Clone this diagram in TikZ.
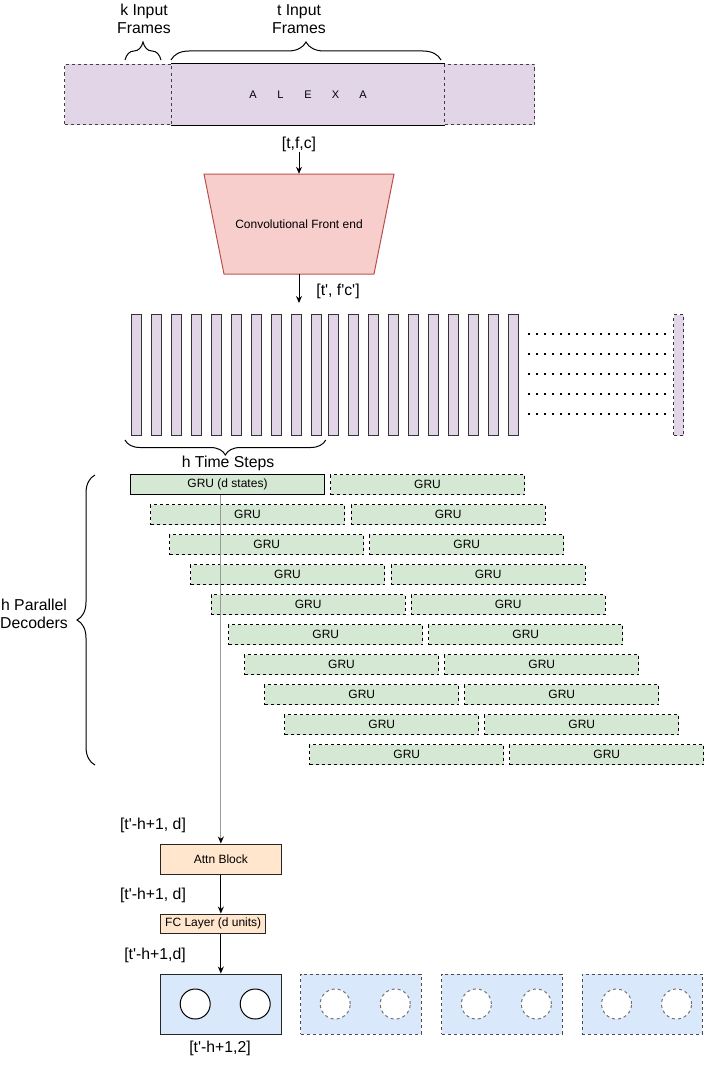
\documentclass[tikz,border=0pt]{standalone}
\usepackage{fontspec}
\setmainfont{Liberation Sans}
\usetikzlibrary{decorations.pathreplacing,arrows.meta}
\definecolor{purp}{HTML}{E1D5E7}
\definecolor{grn}{HTML}{D5E8D4}
\definecolor{pinkf}{HTML}{F8CECC}
\definecolor{pinkd}{HTML}{B85450}
\definecolor{orng}{HTML}{FFE6CC}
\definecolor{blu}{HTML}{DAE8FC}
\newcommand{\apos}{\textquotesingle}
\begin{document}
\begin{tikzpicture}[x=1pt,y=-1pt,
  box/.style={draw=black, line width=1pt, inner sep=0pt, anchor=north west},
  cbox/.style={draw=black!85, line width=1pt, inner sep=0pt, anchor=center},
  dsh/.style={dash pattern=on 3pt off 3pt},
  lbl/.style={font=\fontsize{15.8}{18.3}\selectfont, align=center, inner sep=0pt},
  small/.style={font=\fontsize{12}{14}\selectfont},
  bar/.style={box, draw=black!80, fill=purp, minimum width=10pt, minimum height=121pt},
  grubox/.style={box, fill=grn, small, minimum width=194pt, minimum height=20pt},
  arr/.style={-{Stealth[length=7pt,width=6pt]}, line width=1pt},
  brc/.style={decorate, decoration={brace, amplitude=#1}, line width=1pt},
  dotline/.style={line width=1.8pt, dash pattern=on 1.8pt off 6.2pt},
  circ/.style={circle, draw=black, fill=white, line width=1pt, minimum size=30pt, inner sep=0pt},
  ghost/.style={cbox, draw=black!70, dsh, fill=blu, minimum width=120.3pt, minimum height=60pt},
  gcirc/.style={circ, draw=black!55, dsh}
]
\useasboundingbox (0,0) rectangle (704,1065);

% ---- input frames
\node[box, draw=none, fill=purp, minimum width=273pt, minimum height=60pt] (tin) at (171,64)
  {\fontsize{11}{13}\selectfont\makebox[27.5pt]{A}\makebox[27.5pt]{L}\makebox[27.5pt]{E}\makebox[27.5pt]{X}\makebox[27.5pt]{A}};
\draw[line width=1pt] (tin.north west) -- (tin.north east) (tin.south west) -- (tin.south east);
\node[box, draw=black!75, dsh, fill=purp, minimum width=107pt, minimum height=60pt] (kin) at (64,64) {};
\node[box, draw=black!75, dsh, fill=purp, minimum width=90pt, minimum height=60pt] (rin) at (444,64) {};

\node[lbl] (klab) at (144,19) {k Input\\Frames};
\node[lbl] (tlab) at (299,19) {t Input\\Frames};
\draw[brc=18pt] (125,60) -- (161,60);
\draw[brc=18pt] (171,60) -- (441,60);

% ---- conv front end
\node[lbl] (tfc) at (299,144) {[t,f,c]};
\filldraw[fill=pinkf, draw=pinkd, line width=1pt] (204,174) -- (394,174) -- (374,274) -- (224,274) -- cycle;
\node[small, minimum width=190pt, minimum height=100pt, inner sep=0pt] (conv) at (299,224) {Convolutional Front end};
\draw[arr] (tfc.south) -- (conv.north);
\coordinate (cout) at (299,303);
\draw[arr] (conv.south) -- (cout);
\node[lbl] (tfc2) at (338,291) {[t\apos, f\apos c\apos]};

% ---- time step bars
\foreach \i in {0,...,9} \node[bar] (b\i) at ({130.7+20*\i},314) {};
\foreach \i in {10,...,19} \node[bar] (b\i) at ({328.3+20*(\i-10)},314) {};
\foreach \yy in {334.3,354.3,374.3,394.3,414.3} \draw[dotline] (528,\yy) -- (668,\yy);
\node[bar, dsh] (bend) at (673.3,314) {};

\draw[brc=15pt, decoration={mirror}] (125,440) -- (325.7,440);
\node[lbl] (hts) at (228,463) {h Time Steps};

% ---- GRU decoders
\node[grubox] (gl1) at (130,474) {GRU (d states)};
\node[grubox, dsh] (gr1) at (330,474) {GRU};
\foreach \r/\xl/\xr in {2/150/350.7, 3/169.3/369.3, 4/190/390.7, 5/210.7/410.7, 6/228.3/428.3, 7/244/444.3, 8/264.3/464.3, 9/284.3/484.3, 10/309.3/509.3}
{
  \node[grubox, dsh] (gl\r) at (\xl,{474+30*(\r-1)}) {GRU};
  \node[grubox, dsh] (gr\r) at (\xr,{474+30*(\r-1)}) {GRU};
}
\draw[brc=18pt] (95,765) -- (95,475);
\node[lbl] (hpd) at (34,614) {h Parallel\\Decoders};

% ---- attention / fc / output
\node[cbox, small, fill=orng, minimum width=120.3pt, minimum height=30pt] (attn) at (220.85,859) {Attn Block};
\node[cbox, small, fill=orng, minimum width=105pt, minimum height=19.3pt] (fc) at (213.2,923.7) {FC Layer (d units)};
\node[cbox, fill=blu, minimum width=120.3pt, minimum height=60pt] (out1) at (220.85,1004) {};
\node[ghost] (out2) at (360.85,1004) {};
\node[ghost] (out3) at (502,1004) {};
\node[ghost] (out4) at (642.2,1004) {};
\node[circ] (c1a) at ([xshift=35pt]out1.west) {};
\node[circ] (c1b) at ([xshift=95pt]out1.west) {};
\node[gcirc] (c2a) at ([xshift=35pt]out2.west) {};
\node[gcirc] (c2b) at ([xshift=95pt]out2.west) {};
\node[gcirc] (c3a) at ([xshift=35pt]out3.west) {};
\node[gcirc] (c3b) at ([xshift=95pt]out3.west) {};
\node[gcirc] (c4a) at ([xshift=35pt]out4.west) {};
\node[gcirc] (c4b) at ([xshift=95pt]out4.west) {};

\draw[line width=1pt, draw=black!40, -{Stealth[length=7pt,width=6pt,black]}] (attn.north |- gl1.south) -- (attn.north);
\draw[arr] (attn.south) -- (attn.south |- fc.north);
\draw[arr] (attn.south |- fc.south) -- (out1.north);

\node[lbl] (l1) at (153,825) {[t\apos-h+1, d]};
\node[lbl] (l2) at (153,895) {[t\apos-h+1, d]};
\node[lbl] (l3) at (155,955) {[t\apos-h+1,d]};
\node[lbl] (l4) at (220,1048) {[t\apos-h+1,2]};
\end{tikzpicture}
\end{document}
